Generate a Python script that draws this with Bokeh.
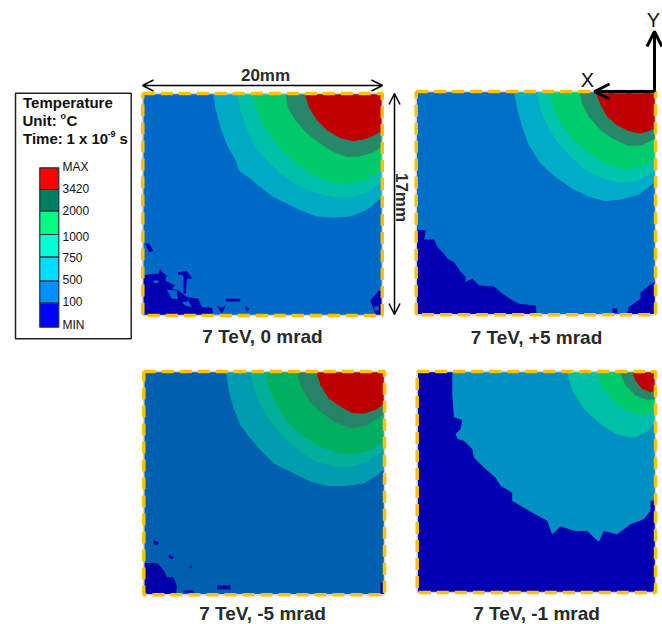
from bokeh.plotting import figure
from bokeh.models import Range1d, Arrow, OpenHead
from bokeh.embed import file_html
from bokeh.resources import INLINE
from bokeh.core.properties import value
import math

# Temperature bands: boundary of each band in mm (x from the left edge, y down from the top edge)
P1_500 = [(5.88,0),(6.07,1.17),(6.49,2.58),(7.05,3.98),(7.83,5.26),(8.02,5.89),(8.99,6.53),(9.83,7.17),(10.94,7.94),(12.34,8.57),(13.17,8.96),(14.56,9.42),(15.95,9.52),(17.35,9.42),(18.74,8.91),(20,7.94)]
P1_750 = [(7.88,0),(8.16,1.30),(8.72,2.83),(9.27,3.98),(10.25,5.0),(11.5,6.15),(12.89,7.04),(14.29,7.55),(15.95,7.94),(17.62,7.94),(19.02,7.43),(20,6.66)]
P1_1000 = [(9.13,0),(9.55,1.30),(10.25,2.70),(11.22,3.98),(12.47,5.13),(14.01,6.15),(15.68,6.79),(17.07,6.97),(18.46,6.71),(20,5.89)]
P1_2000 = [(11.92,0),(12.11,1.05),(12.75,2.07),(13.73,3.09),(14.84,3.85),(15.95,4.49),(17.07,4.87),(18.18,4.80),(19.3,4.49),(20,3.98)]
P1_3420 = [(13.53,0),(13.87,1.05),(14.56,2.07),(15.4,2.83),(16.51,3.42),(17.62,3.65),(18.74,3.47),(19.57,3.09),(20,2.83)]
P1_MIN = [
    [(0,13.94),(0.89,13.81),(1.31,13.81),(1.45,13.42),(1.65,13.68),(2.01,13.94),(1.87,14.32),(2.7,14.7),(2.42,14.96),(2.98,15.08),(3.68,15.59),(4.65,15.72),(4.93,16.36),(5.77,16.41),(5.9,17),(0,17)],
    [(0.2,11.51),(0.53,11.51),(0.89,12.07),(0.53,12.15)],
    [(2.93,13.68),(3.68,13.6),(4.15,14.19),(3.68,14.19),(3.59,15.34),(3.4,15.34),(3.4,13.94),(2.93,13.86)],
    [(6.94,15.72),(8.13,15.72),(8.13,15.93),(6.94,15.93)],
    [(6.18,16.23),(6.55,16.41),(6.94,16.23),(6.6,16.87)],
    [(8.5,16.26),(8.91,16.51),(8.69,16.67)],
    [(19.0,15.85),(19.7,15.1),(20,15.1),(20,17),(19.45,17)],
]
P1_HOLES = [
    [(0.89,14.32),(1.31,14.32),(1.31,14.52),(0.89,14.52)],
    [(2.01,15.03),(2.84,15.08),(2.93,15.72),(2.42,15.72)],
    [(3.26,15.98),(3.82,15.9),(4.1,16.36),(3.54,16.23)],
    [(19.35,16.3),(19.7,16.3),(19.7,16.6),(19.35,16.6)],
]

P2_500 = [(8.16,0),(8.44,1.30),(8.86,2.69),(9.41,4.09),(10.39,5.48),(11.64,6.5),(13.03,7.39),(14.43,8.02),(15.82,8.35),(17.21,8.2),(18.61,7.84),(20,6.88)]
P2_750 = [(10.11,0),(10.39,1.3),(10.95,2.56),(11.78,3.83),(12.9,4.97),(14.15,5.99),(15.54,6.63),(17.07,6.95),(18.61,6.75),(20,5.99)]
P2_1000 = [(11.17,0),(11.5,1.3),(12.2,2.56),(13.17,3.71),(14.43,4.72),(15.82,5.48),(17.49,5.94),(18.89,5.74),(20,5.1)]
P2_2000 = [(13.65,0),(13.87,0.91),(14.43,1.93),(15.4,2.94),(16.38,3.58),(17.77,4.14),(18.89,4.09),(20,3.58)]
P2_3420 = [(14.98,0),(15.35,0.91),(15.96,1.93),(16.8,2.56),(17.77,3.02),(18.75,3.2),(19.44,3.02),(20,2.77)]
P2_MIN = [
    [(0,10.5),(0.81,10.58),(0.67,11.27),(1.5,11.27),(1.78,11.85),(2.34,12.36),(2.62,12.74),(3.17,12.99),(3.73,13.75),(4.15,14.13),(4.09,14.51),(4.71,14.26),(5.26,14.77),(6.52,14.84),(7.21,15.4),(8.05,15.91),(8.61,16.16),(10,16.29),(10.06,17),(0,17)],
    [(17.6,17),(17.77,16.4),(18.75,15.8),(18.75,15.3),(19.86,14.5),(20,14.47),(20,17)],
    [(16.4,16.5),(16.8,16.5),(16.8,16.85),(16.4,16.85)],
]

P3_500 = [(6.84,0),(7.07,1.55),(7.48,2.82),(8.03,4.09),(8.73,4.97),(9.7,5.99),(10.81,7.0),(12.19,7.64),(13.85,8.4),(15.24,8.71),(16.9,8.71),(18.28,8.53),(19.39,7.9),(20,7.39)]
P3_750 = [(8.87,0),(9.14,1.3),(9.7,2.56),(10.53,3.83),(11.64,4.97),(13.02,6.12),(14.41,6.88),(15.79,7.26),(17.18,7.26),(18.56,6.88),(20,5.99)]
P3_1000 = [(10.06,0),(10.39,1.3),(11.08,2.69),(12.05,3.96),(13.3,4.97),(14.68,5.74),(16.07,6.19),(17.45,6.32),(18.84,5.99),(20,5.23)]
P3_2000 = [(12.69,0),(13.02,1.04),(13.71,2.18),(14.68,3.07),(15.79,3.83),(17.31,4.34),(18.56,4.09),(20,3.2)]
P3_3420 = [(14.35,0),(14.68,1.04),(15.38,2.06),(16.35,2.69),(17.31,3.15),(18.28,3.2),(19.25,2.94),(20,2.44)]
P3_MIN = [
    [(0,14.57),(1.11,14.57),(1.66,15.15),(1.94,15.66),(2.49,15.66),(2.77,16.42),(2.63,17),(0,17)],
    [(0.83,12.87),(1.25,13.0),(1.1,13.25),(0.83,13.15)],
    [(2.08,13.93),(2.49,14.1),(2.4,14.3),(2.08,14.2)],
    [(3.74,14.9),(4.0,14.75),(4.0,15.0)],
    [(3.3,16.68),(4.15,16.68),(4.15,16.85),(3.3,16.85)],
    [(6.1,16.3),(7.2,16.3),(7.2,16.6),(6.1,16.6)],
    [(19.67,16.04),(20,16.04),(20,17),(19.67,17)],
]

P4_100 = [(2.94,0),(2.94,1.72),(3.08,3.52),(3.78,3.73),(3.64,4.42),(3.22,4.81),(3.41,5.19),(3.92,5.32),(4.62,5.96),(4.76,6.61),(5.59,7.38),(6.57,8.15),(6.99,8.79),(7.97,9.31),(7.97,9.95),(9.65,10.85),(10.91,11.49),(11.33,12.52),(12.03,11.93),(13.29,12.26),(14.27,12.26),(15.24,13.11),(15.66,12.26),(16.78,12.52),(17.9,11.75),(19.02,11.36),(19.58,10.72),(19.58,9.95),(20,9.95)]
P4_750 = [(12.59,0),(13.0,1.47),(13.99,2.88),(15.38,4.04),(16.78,4.86),(18.18,5.12),(19.44,4.55),(20,3.78)]
P4_1000 = [(15.1,0),(15.52,1.21),(16.5,2.37),(17.9,3.14),(19.02,3.39),(20,3.0)]
P4_2000 = [(17.0,0),(17.48,1.08),(18.32,1.85),(19.3,2.19),(20,2.11)]
P4_3420 = [(18.04,0),(18.32,0.69),(18.88,1.34),(19.58,1.59),(20,1.47)]

LEGEND_LABELS = ["MAX", "3420", "2000", "1000", "750", "500", "100", "MIN"]
LEGEND_COLORS = ["#FF0000", "#008060", "#00FF80", "#00FFD0", "#00DDFF", "#0090FF", "#0000FF"]
CAPTIONS = ["7 TeV, 0 mrad", "7 TeV, +5 mrad", "7 TeV, -5 mrad", "7 TeV, -1 mrad"]

W_MM, H_MM = 20, 17
ORANGE = "#FFC000"
FONT = value("Liberation Sans")

p = figure(width=662, height=624, x_range=Range1d(0, 662), y_range=Range1d(624, 0),
           output_backend="svg", toolbar_location=None, min_border=0)
p.axis.visible = False
p.grid.visible = False
p.outline_line_color = None


def panel(left, top, w, h, base, layers, mins, min_color, holes=()):
    sx, sy = w / W_MM, h / H_MM
    X = lambda pts: [left + a * sx for a, _ in pts]
    Y = lambda pts: [top + b * sy for _, b in pts]
    box = [(0, 0), (W_MM, 0), (W_MM, H_MM), (0, H_MM)]
    p.patch(X(box), Y(box), fill_color=base, line_color=None)
    for pts, col in layers:
        poly = pts + [(W_MM, 0)]
        p.patch(X(poly), Y(poly), fill_color=col, line_color=None)
    for pts in mins:
        p.patch(X(pts), Y(pts), fill_color=min_color, line_color=None)
    for pts in holes:
        p.patch(X(pts), Y(pts), fill_color=base, line_color=None)
    closed = box + box[:1]
    p.line(X(closed), Y(closed), line_color="#C4D4F0", line_width=1.5)
    p.line(X(closed), Y(closed), line_color=ORANGE, line_width=3.5, line_dash="12 6")


panel(142.3, 93, 239.5, 222, "#006AC6",
      [(P1_500, "#00A9C4"), (P1_750, "#00BFA8"), (P1_1000, "#00C96A"), (P1_2000, "#258868"), (P1_3420, "#C00000")],
      P1_MIN, "#0000B0", P1_HOLES)
panel(415.7, 91, 239.3, 223.3, "#006FC8",
      [(P2_500, "#00ADC8"), (P2_750, "#00C4AC"), (P2_1000, "#00CC6E"), (P2_2000, "#258868"), (P2_3420, "#C00000")],
      P2_MIN, "#0000B0")
panel(143.3, 371, 240.7, 223.3, "#0060AE",
      [(P3_500, "#009CB0"), (P3_750, "#00B09A"), (P3_1000, "#00B060"), (P3_2000, "#258468"), (P3_3420, "#BC0000")],
      P3_MIN, "#0000A8")
panel(416.7, 371, 238.3, 221, "#0000B0",
      [(P4_100, "#0090C2"), (P4_750, "#00BFA8"), (P4_1000, "#00C96A"), (P4_2000, "#258868"), (P4_3420, "#C00000")],
      [], "#0000B0")


def label(x, y, s, size, bold=False, align="left", angle=0.0, color="#111111"):
    p.text([x], [y], text=[s], text_font=FONT, text_font_size=f"{size}px",
           text_font_style="bold" if bold else "normal", text_color=color,
           text_align=align, text_baseline="middle", angle=angle)


# Captions
for (cx, cy), s in zip([(262, 336), (536, 337), (262, 613), (536, 613)], CAPTIONS):
    label(cx, cy, s, 19, bold=True, align="center", color="#2a2a2a")

# Legend box
p.quad(left=[15], right=[130.7], top=[92.7], bottom=[338.3], fill_color="white", line_color="#222222", line_width=1.5)
label(22.5, 102, "Temperature", 15, True)
label(22, 120, "Unit:", 15, True)
label(60, 115, "o", 9, True)
label(66, 120, "C", 15, True)
label(22.5, 138, "Time:", 15, True)
label(66, 138, "1 x 10", 15, True)
label(107, 133, "-9", 9, True)
label(119, 138, "s", 15, True)
edges = [167.3, 189, 210.7, 234, 256.7, 280.7, 302.7, 326.7]
p.quad(left=[39.3] * 7, right=[58.3] * 7, top=edges[:-1], bottom=edges[1:],
       fill_color=LEGEND_COLORS, line_color="#203050", line_width=1.2)
for y, s in zip([166, 188, 210, 235.5, 257, 279, 301, 324], LEGEND_LABELS):
    label(62, y, s, 12)

# Dimension arrows
head = dict(line_color="black", line_width=1.5, size=11)
p.add_layout(Arrow(end=OpenHead(**head), start=OpenHead(**head), x_start=142, x_end=382, y_start=85, y_end=85,
                   line_color="black", line_width=1.5))
p.add_layout(Arrow(end=OpenHead(**head), start=OpenHead(**head), x_start=394, x_end=394, y_start=93, y_end=314,
                   line_color="black", line_width=1.5))
label(265, 75, "20mm", 17, True, align="center", color="#2a2a2a")
label(401, 197, "17mm", 17, True, align="center", angle=-math.pi / 2, color="#2a2a2a")

# Axes triad
thick = dict(line_color="black", line_width=3, size=15)
p.add_layout(Arrow(end=OpenHead(**thick), x_start=654, x_end=654, y_start=91, y_end=31, line_color="black", line_width=3))
p.add_layout(Arrow(end=OpenHead(**thick), x_start=654, x_end=594, y_start=91, y_end=91, line_color="black", line_width=3))
label(653, 19, "Y", 20, align="center")
label(587, 79, "X", 20, align="center")

open("out.html", "w").write(file_html(p, INLINE))
